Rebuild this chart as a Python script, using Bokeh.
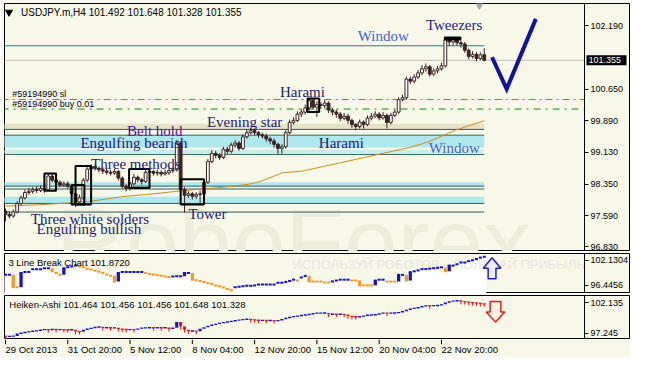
from bokeh.plotting import figure
from bokeh.models import Range1d, FixedTicker, PrintfTickFormatter, ColumnDataSource
from bokeh.layouts import column
from bokeh.embed import file_html
from bokeh.resources import INLINE
from bokeh.core.properties import value

# ---------------- data ----------------
closes = [97.62, 97.58, 97.68, 97.88, 98.02, 98.15, 98.18, 98.22, 98.20, 98.25,
          98.22, 98.55, 98.45, 98.40, 98.33, 98.36, 98.30, 98.12, 97.92, 98.02,
          98.45, 98.72, 98.78, 98.74, 98.70, 98.67, 98.64, 98.62, 98.66, 98.50,
          98.30, 98.25, 98.36, 98.52, 98.46, 98.42, 98.64, 98.66, 98.62, 98.64,
          98.60, 98.63, 98.68, 98.70, 99.35, 98.22, 98.08, 98.12, 98.06, 98.10,
          98.12, 98.40, 98.90, 99.10, 99.05, 99.00, 99.20, 99.15, 99.30, 99.35,
          99.22, 99.50, 99.60, 99.65, 99.60, 99.55, 99.52, 99.45, 99.40, 99.32,
          99.22, 99.26, 99.60, 99.85, 99.90, 100.05, 100.10, 100.20, 100.38, 100.22,
          100.28, 100.26, 100.32, 100.15, 100.10, 100.05, 99.95, 100.00, 99.90, 99.80,
          99.75, 99.86, 99.80, 99.95, 100.00, 100.05, 99.96, 100.02, 99.85, 100.02,
          100.10, 100.40, 100.45, 100.90, 100.85, 100.95, 101.05, 101.15, 101.20, 101.02,
          101.10, 101.15, 101.22, 101.85, 101.80, 101.86, 101.78, 101.75, 101.60, 101.45,
          101.50, 101.40, 101.49, 101.355]
first_open = 97.70
highs = [97.76, 97.70, 97.74, 97.94, 98.08, 98.22, 98.26, 98.28, 98.30, 98.32,
         98.30, 98.60, 98.62, 98.50, 98.44, 98.42, 98.42, 98.34, 98.16, 98.10,
         98.50, 98.80, 98.84, 98.82, 98.78, 98.76, 98.72, 98.70, 98.72, 98.70,
         98.54, 98.36, 98.42, 98.60, 98.56, 98.50, 98.70, 98.72, 98.70, 98.70,
         98.68, 98.70, 98.74, 98.76, 99.42, 99.40, 98.28, 98.18, 98.16, 98.16,
         98.20, 98.46, 98.96, 99.18, 99.16, 99.10, 99.26, 99.26, 99.36, 99.42,
         99.40, 99.56, 99.68, 99.72, 99.70, 99.64, 99.60, 99.58, 99.50, 99.46,
         99.36, 99.32, 99.66, 99.92, 99.98, 100.12, 100.18, 100.28, 100.44, 100.42,
         100.36, 100.34, 100.40, 100.36, 100.20, 100.16, 100.10, 100.08, 100.06, 99.94,
         99.84, 99.92, 99.90, 100.02, 100.08, 100.12, 100.10, 100.10, 100.06, 100.08,
         100.16, 100.46, 100.52, 100.96, 100.96, 101.02, 101.12, 101.24, 101.28, 101.24,
         101.16, 101.22, 101.30, 101.92, 101.92, 101.92, 101.90, 101.84, 101.80, 101.64,
         101.58, 101.56, 101.55, 101.648]
lows = [97.45, 97.52, 97.54, 97.64, 97.84, 97.98, 98.10, 98.12, 98.14, 98.16,
        98.14, 98.18, 98.40, 98.34, 98.28, 98.28, 98.24, 98.06, 97.80, 97.86,
        97.98, 98.40, 98.66, 98.68, 98.64, 98.60, 98.58, 98.56, 98.58, 98.44,
        98.24, 98.18, 98.20, 98.32, 98.40, 98.34, 98.38, 98.58, 98.56, 98.56,
        98.54, 98.56, 98.58, 98.62, 98.66, 98.10, 97.66, 98.02, 97.98, 98.00,
        97.84, 98.06, 98.36, 98.86, 98.98, 98.94, 98.96, 99.08, 99.10, 99.24,
        99.16, 99.18, 99.46, 99.56, 99.54, 99.48, 99.46, 99.38, 99.32, 99.24,
        99.08, 99.08, 99.22, 99.56, 99.80, 99.86, 99.98, 100.04, 100.14, 100.16,
        99.98, 100.18, 100.20, 100.08, 100.02, 99.96, 99.88, 99.90, 99.82, 99.72,
        99.66, 99.70, 99.70, 99.76, 99.90, 99.96, 99.90, 99.92, 99.70, 99.80,
        99.98, 100.06, 100.36, 100.40, 100.78, 100.80, 100.90, 101.00, 101.08, 100.96,
        100.98, 101.04, 101.10, 101.18, 101.70, 101.72, 101.70, 101.66, 101.54, 101.38,
        101.40, 101.33, 101.36, 101.328]

ma_idx = [0, 10, 21.25, 30, 38.25, 45, 50, 56.25, 62.5, 65.5, 71.25, 76.25, 85.5, 97, 103.75, 108.75, 115.5, 123]
ma_val = [97.82, 97.86, 97.93, 98.05, 98.12, 98.19, 98.23, 98.28, 98.35, 98.42, 98.63, 98.67, 98.86, 99.10, 99.24, 99.38, 99.66, 99.89]

# support / resistance zones (price bands and lines)
band_bottom = [99.68, 99.24, 99.10, 98.305, 97.885]
band_top    = [99.82, 99.52, 99.19, 98.398, 98.049]
band_kind   = ["tan", "cyan", "cyan2", "cyan", "cyan"]
zone_lines  = [99.68, 99.54, 99.074, 98.305, 98.235, 97.885, 97.676]
window_line = 101.708
bid_price = 101.355
sl_price = 100.405
buy_price = 100.174

# pattern boxes (bar index range, price range)
box_left   = [77.6, 10, 17, 18, 31.75, 45]
box_right  = [80.6, 13, 20.25, 22, 37, 51]
box_bottom = [100.10, 98.19, 97.86, 97.86, 98.26, 97.86]
box_top    = [100.43, 98.61, 98.33, 98.79, 98.72, 98.47]
tweezer = (112.75, 117.0, 101.85, 101.92)

pat_text = ["Window", "Tweezers", "Harami", "Evening star", "Belt hold", "Engulfing bearish",
            "Harami", "Window", "Three methods", "Three white solders", "Engulfing bullish", "Tower"]
pat_x = [90.5, 108.0, 70.5, 51.75, 31.25, 19.25, 80.5, 108.75, 22.0, 6.5, 8.0, 47.0]
pat_y = [101.94, 102.20, 100.59, 99.87, 99.63, 99.35, 99.35, 99.24, 98.84, 97.51, 97.27, 97.63]
pat_kind = ["w", "n", "n", "n", "p", "n", "n", "w", "n", "n", "n", "n"]

check_x = [125, 128.75, 136.25]
check_y = [101.43, 100.66, 102.36]

# 3 Line Break levels per bar
lb_level = [98.8, 98.8, 96.0, 96.0, 99.2, 99.43, 99.43, 100.08, 100.08, 100.08,
            100.3, 100.3, 99.6, 99.2, 98.8, 100.3, 100.5, 100.7, 100.9, 100.7,
            100.5, 100.2, 100.0, 99.7, 99.5, 99.2, 98.9, 98.6, 97.3, 99.2,
            99.43, 99.43, 99.43, 99.43, 99.43, 99.43, 99.2, 99.0, 98.9, 98.7,
            98.6, 98.4, 98.3, 98.4, 98.5, 98.5, 99.2, 99.2, 97.7, 97.6,
            97.4, 97.2, 96.9, 96.7, 96.4, 96.2, 95.9, 95.6, 95.3, 95.97,
            96.1, 96.2, 96.3, 96.35, 96.4, 96.6, 96.6, 96.6, 96.6, 96.6,
            97.0, 97.0, 97.2, 97.4, 97.7, 97.5, 98.2, 98.56, 97.3, 97.27,
            97.27, 97.27, 97.05, 97.05, 97.3, 97.5, 97.7, 97.7, 97.7, 97.5,
            97.5, 96.4, 96.4, 96.4, 96.4, 97.5, 97.7, 97.7, 97.27, 97.27,
            97.27, 98.8, 98.8, 97.5, 99.4, 99.6, 99.8, 100.1, 100.1, 100.2,
            100.3, 100.4, 100.5, 99.6, 100.9, 100.9, 101.2, 101.6, 101.6, 101.9,
            102.1, 102.4, 102.7, 102.9]
lb_boxes = [2, 4, 12, 15, 28, 29, 46, 48, 78, 91, 95, 101, 103, 104, 113, 114]
lb_arrow_x = [125, 127.25, 126, 126, 124, 124, 122.75]
lb_arrow_y = [102.67, 100.29, 100.29, 97.92, 97.92, 100.29, 100.29]

# Heiken-Ashi closes per bar
ha_close = [96.70, 96.75, 96.80, 97.17, 97.30, 97.40, 97.50, 97.60, 97.64, 97.80,
            97.82, 97.80, 97.85, 97.80, 97.82, 97.80, 97.78, 97.80, 97.50, 97.48,
            97.80, 97.95, 98.10, 98.20, 98.27, 98.10, 98.12, 98.10, 98.10, 97.95,
            97.85, 97.80, 97.82, 97.80, 98.00, 98.10, 98.10, 98.12, 98.10, 98.12,
            98.10, 98.12, 97.96, 98.10, 99.06, 98.30, 97.80, 97.60, 97.60, 97.55,
            97.96, 98.20, 98.45, 98.60, 98.74, 98.90, 99.00, 99.10, 99.20, 99.30,
            99.40, 99.45, 99.53, 99.40, 99.35, 99.30, 99.30, 99.28, 99.30, 99.25,
            99.30, 99.53, 99.70, 99.85, 99.95, 100.05, 100.15, 100.20, 100.30, 100.45,
            100.48, 100.48, 100.50, 100.30, 100.30, 100.28, 100.30, 100.25, 100.00, 99.90,
            99.88, 99.90, 100.10, 100.15, 100.20, 100.22, 100.45, 100.48, 100.45, 100.48,
            100.50, 100.60, 100.80, 101.00, 101.20, 101.30, 101.40, 101.60, 101.70, 101.65,
            101.70, 101.72, 101.90, 102.20, 102.35, 102.45, 102.50, 102.35, 102.30, 102.20,
            102.15, 102.10, 102.00, 101.95]
ha_first_open = 96.80
ha_arrow_x = [125.9, 128.25, 127.25, 127.25, 124.5, 124.5, 123.5]
ha_arrow_y = [99.06, 100.64, 100.64, 102.37, 102.37, 100.64, 100.64]

time_ticks = [0, 16, 32, 48, 64, 80, 96, 112]
time_labels = ["29 Oct 2013", "31 Oct 20:00", "5 Nov 12:00", "8 Nov 04:00",
               "12 Nov 20:00", "15 Nov 12:00", "20 Nov 04:00", "22 Nov 20:00"]

# ---------------- styling ----------------
BG = "#F8F8E8"
SANS = "Liberation Sans"
SERIF = "Liberation Serif"
CANDLE = "#3B2424"
BORDER = 148.75          # bar-index position of the price-scale border
PXU = 580 / 149.0        # pixels per bar index
xr = Range1d(-0.25, -0.25 + 626 / PXU)


def base(h, top, yr, ticks=None, fmt=None, outline=True):
    p = figure(width=630, height=h, x_range=xr, y_range=yr, output_backend="svg",
               toolbar_location=None, x_axis_location=None,
               y_axis_location="right" if ticks else None,
               min_border_left=4, min_border_right=0, min_border_top=top,
               min_border_bottom=0)
    p.background_fill_color = BG
    p.border_fill_color = BG
    p.outline_line_color = "black" if outline else None
    for g in p.grid:
        g.visible = False
    if ticks:
        ax = p.yaxis[0]
        ax.fixed_location = BORDER
        ax.ticker = FixedTicker(ticks=ticks)
        ax.formatter = PrintfTickFormatter(format=fmt)
        ax.major_label_text_font = SANS
        ax.major_label_text_font_size = "9px"
        ax.major_label_text_color = "black"
        ax.major_tick_out = 4
        ax.major_tick_in = 0
        ax.minor_tick_out = 0
        ax.minor_tick_in = 0
        ax.major_label_standoff = 2
        ax.axis_line_color = "black"
        ax.major_tick_line_color = "black"
    return p


n = len(closes)
idx = list(range(n))
opens = [first_open] + closes[:-1]

# ---------------- main panel ----------------
p1 = base(251, 3, Range1d(96.72, 102.733),
          ticks=[102.19, 100.65, 99.89, 99.13, 98.35, 97.59, 96.83], fmt="%.3f")

# watermark
p1.text(x=[13], y=[96.95], text=["RoboForex"], text_font=value(SANS), text_font_size="96px",
        text_color="#EDEDDC", text_baseline="alphabetic")

# zones
band_colors = {"tan": "#E6E2C6", "cyan": "#AEE8EE", "cyan2": "#C4EEF0"}
p1.quad(left=[-1] * len(band_top), right=[n - 1] * len(band_top), bottom=band_bottom, top=band_top,
        fill_color=[band_colors[k] for k in band_kind], line_color=None)
p1.segment(x0=[-1] * len(zone_lines), x1=[n - 1] * len(zone_lines), y0=zone_lines, y1=zone_lines,
           line_color="#2E5C60", line_width=1)
p1.segment(x0=[-1], x1=[n - 1], y0=[window_line], y1=[window_line], line_color="#2E7A80", line_width=1)

p1.segment(x0=[-1], x1=[BORDER], y0=[bid_price], y1=[bid_price], line_color="#BEBEBE", line_width=1)
p1.segment(x0=[-1], x1=[BORDER], y0=[sl_price], y1=[sl_price], line_color="#FF4A10", line_width=1,
           line_dash="7 4 2 4")
p1.segment(x0=[-1], x1=[BORDER], y0=[buy_price], y1=[buy_price], line_color="#108A10", line_width=1,
           line_dash="7 5 2 5")

# moving average
p1.line(x=ma_idx, y=ma_val, line_color="#C8901E", line_width=1)

# candles
src = ColumnDataSource(dict(x=idx, o=opens, c=closes, h=highs, l=lows,
                            top=[max(a, b) for a, b in zip(opens, closes)],
                            bot=[min(a, b) for a, b in zip(opens, closes)],
                            fill=["white" if c >= o else CANDLE for o, c in zip(opens, closes)]))
p1.segment(x0="x", x1="x", y0="l", y1="h", source=src, line_color=CANDLE, line_width=1)
p1.vbar(x="x", top="top", bottom="bot", width=0.72, source=src, fill_color="fill",
        line_color=CANDLE, line_width=1)

# pattern boxes
p1.quad(left=box_left, right=box_right, bottom=box_bottom, top=box_top,
        fill_color=None, line_color="black", line_width=2)
p1.quad(left=[tweezer[0]], right=[tweezer[1]], bottom=[tweezer[2]], top=[tweezer[3]],
        fill_color="black", line_color="black")

# pattern labels
kc = {"n": "#1C1C70", "w": "#4262CC", "p": "#5A0E9C"}
p1.text(x=pat_x, y=pat_y, text=pat_text, text_font=value(SERIF), text_font_size="15px",
        text_color=[kc[k] for k in pat_kind], text_baseline="middle", text_align="left")

# forecast check mark
p1.line(x=check_x, y=check_y, line_color="#1212A0", line_width=4, line_join="miter")

# headers
p1.scatter(x=[0.9], y=[102.52], marker="inverted_triangle", size=7, color="black")
p1.text(x=[4], y=[102.52], text=["USDJPY.m,H4  101.492 101.648 101.328 101.355"],
        text_font=value(SANS), text_font_size="10px", text_color="black", text_baseline="middle")
p1.text(x=[1.75, 1.75], y=[100.53, 100.30], text=["#59194990 sl", "#59194990 buy 0.01"],
        text_font=value(SANS), text_font_size="9px", text_color="black", text_baseline="middle")
p1.scatter(x=[121.75], y=[102.70], marker="inverted_triangle", size=8, color="#A8A8A8")

# current price tag on the price scale
p1.rect(x=[BORDER + 22 / PXU], y=[bid_price], width=40, height=10, width_units="screen",
        height_units="screen", fill_color="black", line_color=None)
p1.text(x=[BORDER + 4 / PXU], y=[bid_price], text=["101.355"], text_font=value(SANS),
        text_font_size="9px", text_color="white", text_baseline="middle", text_align="left")

# ---------------- 3 Line Break panel ----------------
LB_BOT = 94.565
p2 = base(42, 2, Range1d(LB_BOT, 103.643), ticks=[102.1304, 96.4456], fmt="%.4f")
px, py = [idx[0] - 0.5], [LB_BOT]
for i, v in zip(idx, lb_level):
    px += [i - 0.5, i + 0.5]
    py += [v, v]
px += [idx[-1] + 0.5]
py += [LB_BOT]
p2.patch(x=px, y=py, fill_color="white", line_color=None)
p2.text(x=[73.75], y=[101.1], text=["ИСПОЛЬЗУЙ РОБОТОВ – ПОЛУЧАЙ ПРИБЫЛЬ"], text_font=value(SANS),
        text_font_size="13px", text_color="#E6E6E0", text_baseline="middle")

BLUE = "#1414C8"
ORANGE = "#F09A2C"
lb_col = []
prev_c = BLUE
for i, v in enumerate(lb_level):
    if i > 0 and v > lb_level[i - 1]:
        prev_c = BLUE
    elif i > 0 and v < lb_level[i - 1]:
        prev_c = ORANGE
    lb_col.append(prev_c)
bx = [i for i in lb_boxes]
p2.quad(left=[i - 0.42 for i in bx], right=[i + 0.42 for i in bx],
        bottom=[min(lb_level[i - 1], lb_level[i]) for i in bx],
        top=[max(lb_level[i - 1], lb_level[i]) for i in bx],
        fill_color=[lb_col[i] for i in bx], line_color=None)
p2.rect(x=idx, y=lb_level, width=0.8, height=2, height_units="screen",
        fill_color=lb_col, line_color=None)
p2.patch(x=lb_arrow_x, y=lb_arrow_y, fill_color="#EDEDFF", line_color="#2020C0", line_width=1.5)
p2.text(x=[0.75], y=[101.7], text=["3 Line Break Chart 101.8720"], text_font=value(SANS),
        text_font_size="9.5px", text_color="black", text_baseline="middle")

# ---------------- Heiken-Ashi panel ----------------
p3 = base(46, 2, Range1d(96.22, 103.318), ticks=[102.135, 97.245], fmt="%.3f")
ha_open = [ha_first_open] + ha_close[:-1]
RED = "#E01414"
ha_col = [BLUE if c >= o else RED for o, c in zip(ha_open, ha_close)]
ha_mid = [(o + c) / 2 for o, c in zip(ha_open, ha_close)]
ha_h = [max(abs(c - o), 0.22) for o, c in zip(ha_open, ha_close)]
red_i = [i for i in idx if ha_col[i] == RED]
p3.segment(x0=red_i, x1=red_i, y0=[min(ha_open[i], ha_close[i]) for i in red_i],
           y1=[min(ha_open[i], ha_close[i]) - 0.45 for i in red_i], line_color=RED, line_width=1)
p3.rect(x=idx, y=ha_mid, width=0.8, height=ha_h, fill_color=ha_col, line_color=None)
p3.patch(x=ha_arrow_x, y=ha_arrow_y, fill_color="#FFF4E0", line_color="#E02020", line_width=1.5)
p3.text(x=[1], y=[101.82], text=["Heiken-Ashi 101.464 101.456 101.456 101.648 101.328"],
        text_font=value(SANS), text_font_size="9.5px", text_color="black", text_baseline="middle")

# ---------------- time axis strip ----------------
p4 = base(18, 0, Range1d(0, 1), outline=False)
p4.segment(x0=time_ticks, x1=time_ticks, y0=[1] * len(time_ticks), y1=[0.74] * len(time_ticks),
           line_color="black", line_width=1)
p4.text(x=time_ticks, y=[0.42] * len(time_ticks), text=time_labels, text_font=value(SANS),
        text_font_size="9.5px", text_color="black", text_baseline="middle", text_align="left")

layout = column(p1, p2, p3, p4, spacing=0)
open("out.html", "w").write(file_html(layout, INLINE, "USDJPY"))
